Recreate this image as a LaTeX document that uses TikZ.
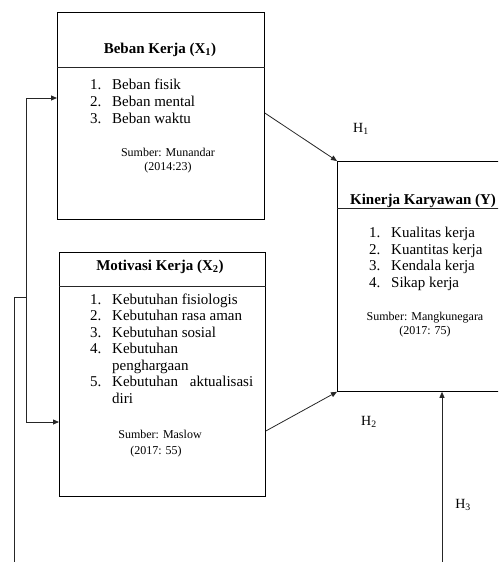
\documentclass[tikz,border=0pt]{standalone}
\usepackage{fontspec}
\setmainfont{Liberation Serif}
\usetikzlibrary{arrows.meta}
\begin{document}
\begin{tikzpicture}[x=1pt,y=-1pt,
  box/.style={draw=black, line width=0.8pt, anchor=north west, inner sep=0pt},
  ttl/.style={inner sep=0pt, anchor=base, font=\fontsize{15}{18}\selectfont\bfseries},
  itm/.style={inner sep=0pt, anchor=base west, font=\fontsize{15}{18}\selectfont},
  src/.style={inner sep=0pt, anchor=base, font=\fontsize{12}{14}\selectfont},
  hl/.style={inner sep=0pt, anchor=base, font=\fontsize{14}{16}\selectfont},
  conn/.style={draw=black!85, line width=0.8pt},
  arr/.style={conn, -{Triangle[length=6pt,width=5pt]}}]
\clip (0,0) rectangle (498,562);
\newcommand\num[1]{\makebox[22pt][l]{#1}}
% boxes
\node[box, minimum width=207pt, minimum height=207pt] (b1) at (57,12) {};
\node[box, minimum width=206pt, minimum height=244pt] (b2) at (59,252) {};
\node[box, minimum width=175pt, minimum height=230pt] (bY) at (337,161) {};
\draw[conn] ([yshift=-55pt]b1.north west) -- ([yshift=-55pt]b1.north east);
\draw[conn] ([yshift=-34pt]b2.north west) -- ([yshift=-34pt]b2.north east);
\draw[conn] ([yshift=-47pt]bY.north west) -- ([yshift=-47pt]bY.north east);
% box 1
\node[ttl] (t1) at (160,53) {Beban Kerja (X\textsubscript{1})};
\node[itm] (b1a) at (90,89) {\num{1.}Beban fisik};
\node[itm] (b1b) at (90,106) {\num{2.}Beban mental};
\node[itm] (b1c) at (90,123) {\num{3.}Beban waktu};
\node[src] (s1a) at (168,156) {Sumber: Munandar};
\node[src] (s1b) at (168,170) {(2014:23)};
% box 2
\node[ttl] (t2) at (160,270) {Motivasi Kerja (X\textsubscript{2})};
\node[itm] (b2a) at (90,304) {\num{1.}Kebutuhan fisiologis};
\node[itm] (b2b) at (90,320) {\num{2.}Kebutuhan rasa aman};
\node[itm] (b2c) at (90,337) {\num{3.}Kebutuhan sosial};
\node[itm] (b2d) at (90,353) {\num{4.}Kebutuhan};
\node[itm] (b2e) at (90,370) {\num{}penghargaan};
\node[itm] (b2f) at (90,386) {\num{5.}\makebox[141pt][s]{Kebutuhan\hfill aktualisasi}};
\node[itm] (b2g) at (90,403) {\num{}diri};
\node[src] (s2a) at (160,438) {Sumber: Maslow};
\node[src] (s2b) at (156,454) {(2017: 55)};
% box Y
\node[ttl] (tY) at (423,204) {Kinerja Karyawan (Y)};
\node[itm] (bYa) at (369,237) {\num{1.}Kualitas kerja};
\node[itm] (bYb) at (369,254) {\num{2.}Kuantitas kerja};
\node[itm] (bYc) at (369,270) {\num{3.}Kendala kerja};
\node[itm] (bYd) at (369,287) {\num{4.}Sikap kerja};
\node[src] (sYa) at (425,320) {Sumber: Mangkunegara};
\node[src] (sYb) at (425,334) {(2017: 75)};
% hypothesis labels
\node[hl] (h1) at (361,132) {H\textsubscript{1}};
\node[hl] (h2) at (369,425) {H\textsubscript{2}};
\node[hl] (h3) at (463,508) {H\textsubscript{3}};
% connectors
\draw[arr] ([yshift=-101pt]b1.north east) -- (bY.north west);
\draw[arr] ([yshift=-179pt]b2.north east) -- (bY.south west);
\coordinate (h3s) at (442,562);
\draw[arr] (h3s) -- (h3s |- bY.south);
\coordinate (fbs) at (14,562);
\coordinate (fbj) at (26,297);
\draw[arr] (fbs) |- (fbj) |- ([yshift=-86pt]b1.north west);
\draw[arr] (fbj) |- ([yshift=-170pt]b2.north west);
\end{tikzpicture}
\end{document}
